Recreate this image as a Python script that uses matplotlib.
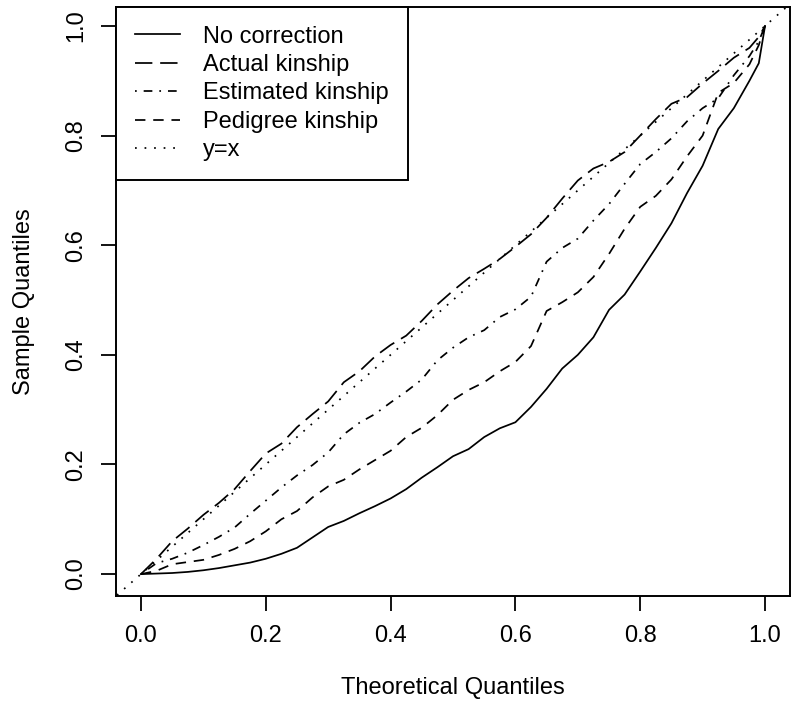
import matplotlib.pyplot as plt

plt.rcParams['font.family'] = ['Liberation Sans', 'DejaVu Sans']

# Theoretical quantiles (x) shared by all curves
theo = [0.000, 0.025, 0.050, 0.075, 0.100, 0.125, 0.150, 0.175, 0.200, 0.225,
        0.250, 0.275, 0.300, 0.325, 0.350, 0.375, 0.400, 0.425, 0.450, 0.475,
        0.500, 0.525, 0.550, 0.575, 0.600, 0.625, 0.650, 0.675, 0.700, 0.725,
        0.750, 0.775, 0.800, 0.825, 0.850, 0.875, 0.900, 0.925, 0.950, 0.975,
        0.990, 1.000]

# Sample quantiles
no_correction = [0.000, 0.001, 0.002, 0.004, 0.007, 0.011, 0.016, 0.021, 0.028, 0.037,
                 0.048, 0.067, 0.086, 0.097, 0.111, 0.124, 0.138, 0.155, 0.176, 0.195,
                 0.215, 0.228, 0.250, 0.266, 0.277, 0.305, 0.338, 0.375, 0.400, 0.432,
                 0.482, 0.510, 0.552, 0.595, 0.640, 0.695, 0.745, 0.812, 0.850, 0.900,
                 0.932, 1.000]
actual_kinship = [0.000, 0.028, 0.060, 0.083, 0.108, 0.130, 0.155, 0.188, 0.220, 0.238,
                  0.268, 0.292, 0.315, 0.350, 0.370, 0.397, 0.418, 0.435, 0.462, 0.492,
                  0.517, 0.540, 0.557, 0.575, 0.597, 0.620, 0.650, 0.685, 0.718, 0.740,
                  0.752, 0.770, 0.800, 0.830, 0.858, 0.870, 0.895, 0.918, 0.942, 0.960,
                  0.980, 1.000]
estimated_kinship = [0.000, 0.020, 0.028, 0.039, 0.053, 0.068, 0.085, 0.110, 0.134, 0.158,
                     0.180, 0.199, 0.222, 0.255, 0.276, 0.292, 0.313, 0.333, 0.355, 0.390,
                     0.413, 0.432, 0.445, 0.469, 0.483, 0.506, 0.570, 0.595, 0.612, 0.645,
                     0.675, 0.712, 0.748, 0.770, 0.795, 0.826, 0.850, 0.868, 0.910, 0.945,
                     0.972, 1.000]
pedigree_kinship = [0.000, 0.006, 0.018, 0.022, 0.026, 0.035, 0.046, 0.060, 0.078, 0.100,
                    0.115, 0.140, 0.160, 0.172, 0.191, 0.208, 0.225, 0.250, 0.267, 0.290,
                    0.318, 0.336, 0.350, 0.370, 0.387, 0.416, 0.480, 0.496, 0.514, 0.542,
                    0.584, 0.630, 0.670, 0.690, 0.720, 0.762, 0.800, 0.878, 0.896, 0.930,
                    0.965, 1.000]

ticks = [0.0, 0.2, 0.4, 0.6, 0.8, 1.0]
tick_labels = ['0.0', '0.2', '0.4', '0.6', '0.8', '1.0']

fig = plt.figure(figsize=(8, 7.11), dpi=100)
ax = fig.add_axes([0.145, 0.1617, 0.8425, 0.8288])

lw = 1.25
ax.plot(theo, no_correction, color='black', lw=lw, label='No correction')
ax.plot(theo, actual_kinship, color='black', lw=lw, dashes=(10, 4.5), label='Actual kinship')
ax.plot(theo, estimated_kinship, color='black', lw=lw, dashes=(1, 4, 5, 4), label='Estimated kinship')
ax.plot(theo, pedigree_kinship, color='black', lw=lw, dashes=(6, 4.5), label='Pedigree kinship')
ax.plot([-0.05, 1.05], [-0.05, 1.05], color='black', lw=lw, dashes=(1, 4.5), label='y=x')

ax.set_xlim(-0.04, 1.04)
ax.set_ylim(-0.04, 1.035)
ax.set_xticks(ticks)
ax.set_xticklabels(tick_labels)
ax.set_yticks(ticks)
ax.set_yticklabels(tick_labels, rotation=90, va='center')

fs = 17
ax.tick_params(length=10.8, width=1.3, labelsize=fs, pad=10)
for s in ax.spines.values():
    s.set_linewidth(1.4)

ax.set_xlabel('Theoretical Quantiles', fontsize=fs, labelpad=22)
ax.set_ylabel('Sample Quantiles', fontsize=fs, labelpad=22)

leg = ax.legend(loc='upper left', bbox_to_anchor=(0, 1), borderaxespad=0,
                fancybox=False, edgecolor='black', framealpha=1, fontsize=fs,
                handlelength=1.9, handletextpad=1.0, borderpad=0.8,
                labelspacing=0.27)
leg.get_frame().set_linewidth(1.4)

fig.savefig('out.png', dpi=100)
